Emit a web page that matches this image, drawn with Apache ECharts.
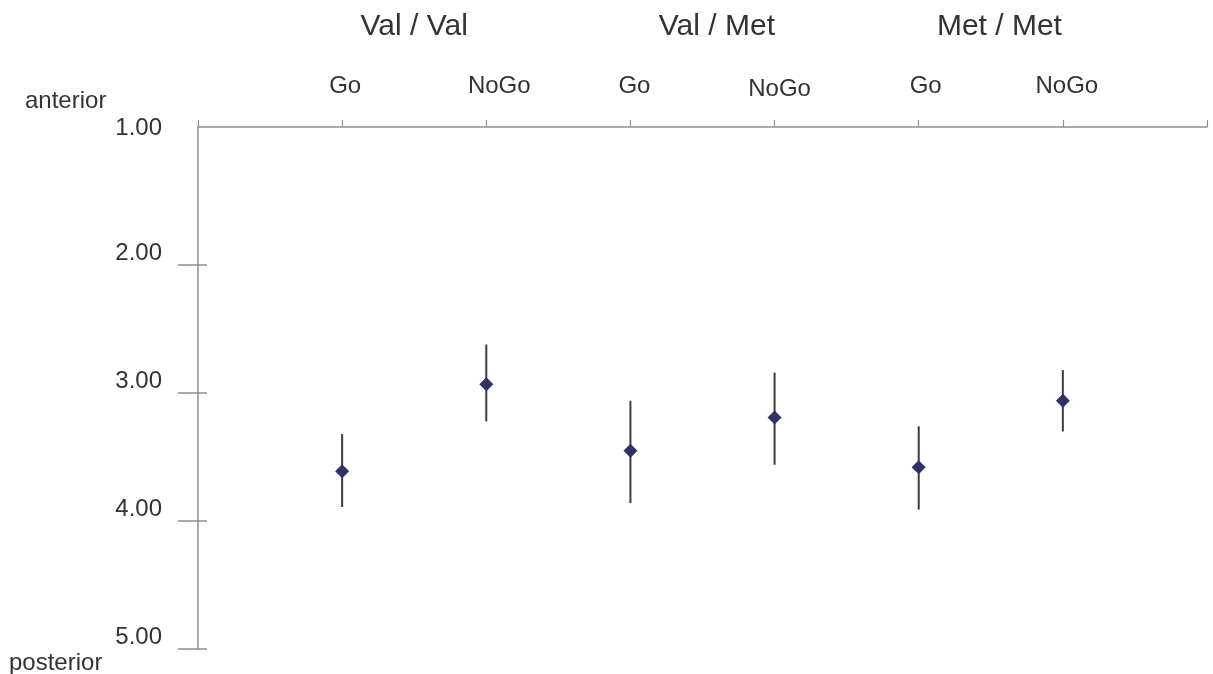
<!DOCTYPE html>
<html>
<head>
<meta charset="utf-8">
<script src="https://cdn.jsdelivr.net/npm/echarts@6/dist/echarts.min.js"></script>
<style>
  html, body { margin: 0; padding: 0; background: #ffffff; }
  #chart { width: 1213px; height: 674px; }
</style>
</head>
<body>
<div id="chart"></div>
<script>
// Genotype groups and the two conditions within each group
const groups = ['Val / Val', 'Val / Met', 'Met / Met'];
const conditions = ['Go', 'NoGo', 'Go', 'NoGo', 'Go', 'NoGo'];

// Mean position and error-bar ends (1 = anterior, 5 = posterior)
const means = [3.61, 2.93, 3.45, 3.19, 3.58, 3.06];
const barLow = [3.32, 2.62, 3.06, 2.84, 3.26, 2.82];
const barHigh = [3.89, 3.22, 3.86, 3.56, 3.91, 3.30];

// Y axis tick labels
const yTickLabels = [1, 2, 3, 4, 5];

const FONT = 'Liberation Sans, Arial, Helvetica, sans-serif';
const TEXT = '#333333';
const AXIS = '#8e8e8e';

// Slight horizontal nudges of the condition labels (px) and which one sits lower
const labelNudge = [3, 13, 4, 5, 7, 4];
const labelLowered = [false, false, false, true, false, false];

const condRich = {};
conditions.forEach((c, i) => {
  condRich['c' + i] = {
    fontSize: 24,
    fontFamily: FONT,
    color: TEXT,
    lineHeight: labelLowered[i] ? 24 : 30,
    padding: [0, 0, 0, labelNudge[i] * 2]
  };
});

const positions = conditions.map((c, i) => i + 1);

const chart = echarts.init(document.getElementById('chart'), null, { renderer: 'canvas' });

chart.setOption({
  animation: false,
  backgroundColor: '#ffffff',
  grid: {
    left: 198, right: 6, top: 127, bottom: 25,
    containLabel: false,
    outerBoundsMode: 'none'
  },
  xAxis: [
    {
      type: 'value',
      position: 'top',
      min: 0, max: 7, interval: 1,
      splitLine: { show: false },
      axisLine: { show: true, lineStyle: { color: AXIS, width: 1.5 } },
      axisTick: { show: true, inside: false, length: 7, lineStyle: { color: AXIS, width: 1.2 } },
      axisLabel: {
        margin: 26,
        verticalAlign: 'bottom',
        formatter: v => {
          const i = Math.round(v) - 1;
          if (i < 0 || i >= conditions.length) return '';
          return '{c' + i + '|' + conditions[i] + '}';
        },
        rich: condRich
      }
    },
    {
      type: 'value',
      position: 'top',
      min: 0, max: 7,
      splitLine: { show: false },
      axisLine: { show: false },
      axisTick: { show: false },
      axisLabel: {
        customValues: [1.5, 3.6, 5.56],
        margin: 85,
        fontSize: 30,
        lineHeight: 30,
        verticalAlign: 'bottom',
        fontFamily: FONT,
        color: TEXT,
        formatter: v => groups[v < 2.5 ? 0 : (v < 4.5 ? 1 : 2)]
      }
    }
  ],
  yAxis: [
    {
      type: 'value',
      inverse: true,
      min: 0.92, max: 5,
      position: 'left',
      splitLine: { show: false },
      axisLine: { show: true, lineStyle: { color: AXIS, width: 1.5 } },
      axisTick: {
        show: true, inside: false, length: 20,
        customValues: [2, 3, 4, 5],
        lineStyle: { color: AXIS, width: 1.5 }
      },
      axisLabel: {
        customValues: yTickLabels,
        margin: 36,
        fontSize: 24,
        lineHeight: 24,
        verticalAlign: 'bottom',
        fontFamily: FONT,
        color: TEXT,
        formatter: v => (v === 1 ? '{top|' + v.toFixed(2) + '}' : v.toFixed(2)),
        rich: {
          top: { fontSize: 24, lineHeight: 17, fontFamily: FONT, color: TEXT }
        }
      }
    },
    {
      // inner half of the crossing tick marks
      type: 'value',
      inverse: true,
      min: 0.92, max: 5,
      position: 'left',
      splitLine: { show: false },
      axisLine: { show: false },
      axisTick: {
        show: true, inside: true, length: 9,
        customValues: [2, 3, 4, 5],
        lineStyle: { color: AXIS, width: 1.5 }
      },
      axisLabel: { show: false }
    }
  ],
  graphic: [
    {
      type: 'text', left: 25, top: 89,
      style: { text: 'anterior', font: '24px ' + FONT, fill: TEXT }
    },
    {
      type: 'text', left: 9, top: 651,
      style: { text: 'posterior', font: '24px ' + FONT, fill: TEXT }
    }
  ],
  series: [
    {
      type: 'custom',
      xAxisIndex: 0,
      yAxisIndex: 0,
      z: 2,
      silent: true,
      data: positions.map((x, i) => [x, barLow[i], barHigh[i]]),
      encode: { x: 0, y: [1, 2] },
      renderItem: (params, api) => {
        const x = api.value(0);
        const a = api.coord([x, api.value(1)]);
        const b = api.coord([x, api.value(2)]);
        return {
          type: 'line',
          shape: { x1: a[0], y1: a[1], x2: b[0], y2: b[1] },
          style: { stroke: '#3c3c3c', lineWidth: 2 }
        };
      }
    },
    {
      type: 'scatter',
      xAxisIndex: 0,
      yAxisIndex: 0,
      z: 3,
      symbol: 'diamond',
      symbolSize: 14,
      itemStyle: { color: '#2f3167', opacity: 1 },
      data: positions.map((x, i) => [x, means[i]])
    }
  ]
});
</script>
</body>
</html>
